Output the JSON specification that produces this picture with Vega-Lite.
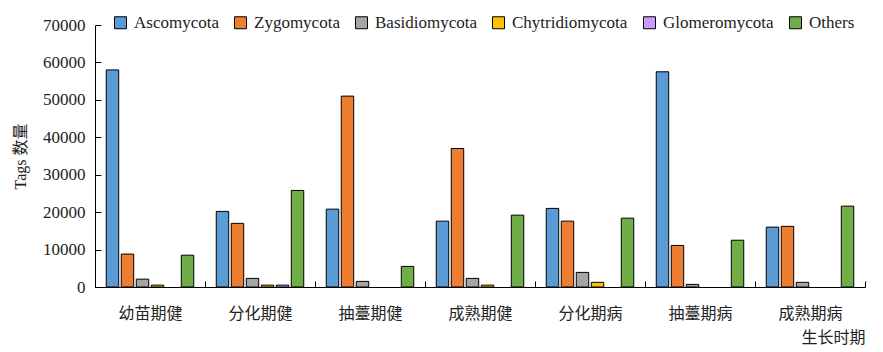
{
  "$schema": "https://vega.github.io/schema/vega-lite/v6.json",
  "autosize": "none",
  "width": 770,
  "height": 262,
  "padding": {"left": 95, "top": 25, "right": 18, "bottom": 65},
  "background": "white",
  "config": {
    "font": "Liberation Serif",
    "view": {"stroke": null},
    "axis": {"grid": false, "ticks": true, "domainColor": "black", "tickColor": "black", "tickWidth": 1, "labelColor": "#222", "titleColor": "#222", "titleFontWeight": "normal"}
  },
  "data": {
    "values": [
      {"stage": "幼苗期健", "phylum": "Ascomycota", "tags": 58000},
      {"stage": "幼苗期健", "phylum": "Zygomycota", "tags": 8800},
      {"stage": "幼苗期健", "phylum": "Basidiomycota", "tags": 2100},
      {"stage": "幼苗期健", "phylum": "Chytridiomycota", "tags": 500},
      {"stage": "幼苗期健", "phylum": "Others", "tags": 8500},
      {"stage": "分化期健", "phylum": "Ascomycota", "tags": 20200},
      {"stage": "分化期健", "phylum": "Zygomycota", "tags": 17000},
      {"stage": "分化期健", "phylum": "Basidiomycota", "tags": 2300},
      {"stage": "分化期健", "phylum": "Chytridiomycota", "tags": 500},
      {"stage": "分化期健", "phylum": "Glomeromycota", "tags": 500},
      {"stage": "分化期健", "phylum": "Others", "tags": 25800},
      {"stage": "抽薹期健", "phylum": "Ascomycota", "tags": 20800},
      {"stage": "抽薹期健", "phylum": "Zygomycota", "tags": 51000},
      {"stage": "抽薹期健", "phylum": "Basidiomycota", "tags": 1500},
      {"stage": "抽薹期健", "phylum": "Others", "tags": 5500},
      {"stage": "成熟期健", "phylum": "Ascomycota", "tags": 17600},
      {"stage": "成熟期健", "phylum": "Zygomycota", "tags": 37000},
      {"stage": "成熟期健", "phylum": "Basidiomycota", "tags": 2300},
      {"stage": "成熟期健", "phylum": "Chytridiomycota", "tags": 500},
      {"stage": "成熟期健", "phylum": "Others", "tags": 19200},
      {"stage": "分化期病", "phylum": "Ascomycota", "tags": 21000},
      {"stage": "分化期病", "phylum": "Zygomycota", "tags": 17600},
      {"stage": "分化期病", "phylum": "Basidiomycota", "tags": 3900},
      {"stage": "分化期病", "phylum": "Chytridiomycota", "tags": 1250},
      {"stage": "分化期病", "phylum": "Others", "tags": 18400},
      {"stage": "抽薹期病", "phylum": "Ascomycota", "tags": 57500},
      {"stage": "抽薹期病", "phylum": "Zygomycota", "tags": 11100},
      {"stage": "抽薹期病", "phylum": "Basidiomycota", "tags": 700},
      {"stage": "抽薹期病", "phylum": "Others", "tags": 12500},
      {"stage": "成熟期病", "phylum": "Ascomycota", "tags": 16000},
      {"stage": "成熟期病", "phylum": "Zygomycota", "tags": 16200},
      {"stage": "成熟期病", "phylum": "Basidiomycota", "tags": 1250},
      {"stage": "成熟期病", "phylum": "Others", "tags": 21600}
    ]
  },
  "mark": {"type": "bar", "stroke": "black", "strokeWidth": 1},
  "encoding": {
    "x": {
      "field": "stage", "type": "nominal", "sort": null,
      "scale": {"paddingInner": 0, "paddingOuter": 0},
      "axis": {
        "title": "生长时期", "titleAnchor": "end", "titleFontSize": 16, "titlePadding": 8,
        "titleFont": "Noto Sans CJK SC", "labelFont": "Noto Sans CJK SC",
        "labelAngle": 0, "labelFontSize": 16, "labelPadding": 24,
        "tickBand": "extent", "tickSize": -6, "domainWidth": 1
      }
    },
    "xOffset": {
      "field": "phylum", "type": "nominal", "sort": ["Ascomycota", "Zygomycota", "Basidiomycota", "Chytridiomycota", "Glomeromycota", "Others"],
      "scale": {"paddingInner": 0.17, "paddingOuter": 0.75}
    },
    "y": {
      "field": "tags", "type": "quantitative",
      "scale": {"domain": [0, 70000], "nice": false},
      "axis": {
        "title": "Tags 数量", "titleFontSize": 16, "titlePadding": 14,
        "titleFont": "Liberation Serif, Noto Sans CJK SC",
        "labelFont": "Liberation Serif",
        "values": [0, 10000, 20000, 30000, 40000, 50000, 60000, 70000],
        "format": "d", "labelFontSize": 17, "labelPadding": 16, "tickSize": -6
      }
    },
    "fill": {
      "field": "phylum", "type": "nominal",
      "sort": ["Ascomycota", "Zygomycota", "Basidiomycota", "Chytridiomycota", "Glomeromycota", "Others"],
      "scale": {"range": ["#5B9BD5", "#ED7D31", "#A5A5A5", "#FFC000", "#CC99FF", "#70AD47"]},
      "legend": {
        "title": null, "orient": "none", "direction": "horizontal", "columns": 6,
        "legendX": 17, "legendY": -11,
        "symbolType": "square", "symbolSize": 144, "symbolStrokeColor": "black", "symbolStrokeWidth": 1,
        "symbolOpacity": 1, "labelFont": "Liberation Serif",
        "labelFontSize": 17, "labelColor": "#222", "labelOffset": 5, "columnPadding": 13
      }
    }
  }
}
